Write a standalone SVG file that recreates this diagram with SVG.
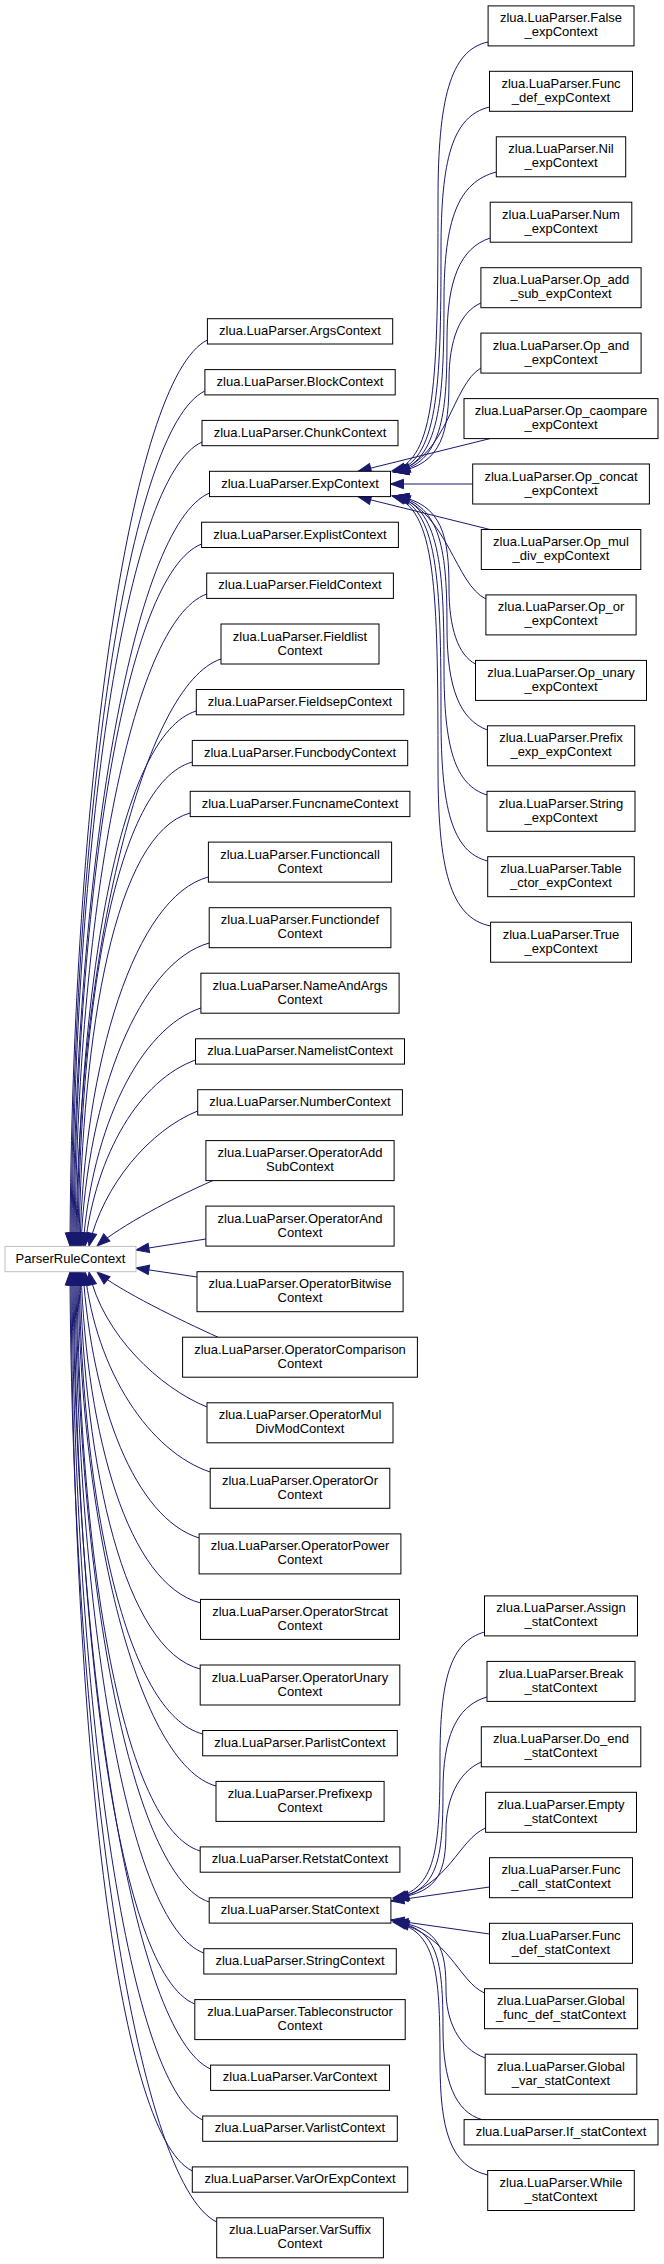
<svg xmlns="http://www.w3.org/2000/svg" width="664" height="2264" viewBox="0 0 664 2264">
<defs>
<style>
.n rect{fill:#fff;stroke:#000;stroke-width:1}
.x rect{fill:#fff;stroke:#bfbfbf;stroke-width:1}
text{font-family:"Liberation Sans",Arial,Helvetica,sans-serif;font-size:13px;text-anchor:middle;fill:#000}
#edges path{fill:none;stroke:#191970;stroke-width:1;marker-end:url(#ah)}
</style>
<marker id="ah" viewBox="0 0 14 10" refX="13" refY="5" markerWidth="14" markerHeight="10" markerUnits="userSpaceOnUse" orient="auto" style="overflow:visible">
<path d="M0,0.3 L13,5 L0,9.7 Z" fill="#191970" stroke="#191970" stroke-width="1"/>
</marker>
</defs>
<rect x="0" y="0" width="664" height="2264" fill="#fff"/>
<g id="edges">
<path d="M207.4,340 C130,378 72,793 70,1246"/>
<path d="M204.9,391 C128,428 73,818 71,1246"/>
<path d="M202,442 C125,477 74,844 72,1246"/>
<path d="M209.5,493 C132,526 75,870 73,1246"/>
<path d="M201.6,544 C125,574 76,895 74,1246"/>
<path d="M206.7,594 C130,622 77,920 75,1246"/>
<path d="M221,659 C144,684 78,953 76,1246"/>
<path d="M196.3,711 C120,734 79,979 77,1246"/>
<path d="M192.3,762 C116,783 80,1004 78,1246"/>
<path d="M190.2,813 C115,833 82,1030 79,1246"/>
<path d="M208.4,877 C135,896 84,1062 80,1246"/>
<path d="M209.2,943 C140,962 87,1095 81,1246"/>
<path d="M200.9,1008 C140,1028 92,1127 83,1246"/>
<path d="M195.5,1060 C140,1080 96,1153 85,1246"/>
<path d="M197.7,1111 C150,1130 103,1185 89,1246"/>
<path d="M213,1180.5 C175,1197 120,1226 97,1246"/>
<path d="M205.9,1239 L136,1250"/>
<path d="M197,1277 L136,1268"/>
<path d="M218,1337.2 C180,1320 120,1291 97,1272"/>
<path d="M207,1407 C160,1388 103,1335 89,1272"/>
<path d="M210.2,1472 C150,1452 96,1372 85,1272"/>
<path d="M199.1,1538 C135,1518 92,1405 83,1272"/>
<path d="M200.5,1603 C128,1584 87,1437 81,1272"/>
<path d="M200.2,1669 C125,1650 84,1470 80,1272"/>
<path d="M202.7,1734 C126,1714 82,1503 79,1272"/>
<path d="M216,1786 C139,1765 80,1529 78,1272"/>
<path d="M200.2,1851 C123,1828 79,1561 77,1272"/>
<path d="M209.2,1902 C132,1877 78,1587 76,1272"/>
<path d="M203.8,1953 C127,1925 77,1612 75,1272"/>
<path d="M194.8,2004 C118,1973 76,1638 74,1272"/>
<path d="M210.6,2069 C134,2035 75,1670 73,1272"/>
<path d="M202.7,2120 C126,2084 74,1696 72,1272"/>
<path d="M192.3,2171 C115,2133 73,1721 71,1272"/>
<path d="M216.7,2222 C135,2182 72,1747 70,1272"/>
<path d="M488,42 C450,50 438,100 438,200 C438,380 436,460 392,471"/>
<path d="M489.5,107 C452,116 441,160 441,250 C441,390 438,462 393,472"/>
<path d="M496.3,172 C458,182 444,220 444,300 C444,400 440,463 394,472"/>
<path d="M490.2,238 C460,248 447,280 447,340 C447,415 442,464 395,472"/>
<path d="M480.9,303 C460,312 449,340 449,380 C449,430 443,465 396,472"/>
<path d="M480.9,368 C452,385 448,455 397,472"/>
<path d="M490,438.6 L358,471.3"/>
<path d="M472.7,484 L390.5,484"/>
<path d="M490,529.5 L358,496.7"/>
<path d="M485.9,599 C455,584 448,513 397,496"/>
<path d="M475.5,664 C458,655 449,628 449,588 C449,538 443,503 396,496"/>
<path d="M487.4,730 C460,720 447,688 447,628 C447,553 442,504 395,496"/>
<path d="M487,795 C455,785 444,748 444,668 C444,568 440,505 394,496"/>
<path d="M487.7,861 C452,852 441,808 441,718 C441,578 438,506 393,496"/>
<path d="M490.6,926 C450,918 438,868 438,768 C438,588 436,508 392,496"/>
<path d="M484.5,1632 C450,1642 440,1680 440,1760 C440,1850 436,1890 393,1898"/>
<path d="M487,1697 C455,1706 443,1740 443,1790 C443,1860 438,1892 394,1898"/>
<path d="M481.3,1762 C458,1772 446,1800 446,1830 C446,1870 440,1893 395,1898"/>
<path d="M485.6,1828 C458,1840 450,1885 396,1899"/>
<path d="M489.5,1887 L391,1901"/>
<path d="M489.5,1934 L391,1920"/>
<path d="M484.5,1993 C458,1981 450,1936 396,1922"/>
<path d="M485.2,2058 C458,2048 446,2020 446,1990 C446,1950 440,1927 395,1922"/>
<path d="M482,2119.6 C455,2112 443,2080 443,2030 C443,1960 438,1928 394,1922"/>
<path d="M487.7,2175 C450,2166 440,2130 440,2060 C440,1970 436,1930 393,1922"/>
</g>
<g id="ParserRuleContext" class="x"><rect x="5" y="1246.4" width="131" height="25.3"/><text x="70.5" y="1262.7">ParserRuleContext</text></g>
<g id="ArgsContext" class="n"><rect x="207.4" y="318.7" width="185.3" height="25.3"/><text x="300" y="335">zlua.LuaParser.ArgsContext</text></g>
<g id="BlockContext" class="n"><rect x="204.9" y="369.6" width="190.3" height="25.3"/><text x="300" y="385.9">zlua.LuaParser.BlockContext</text></g>
<g id="ChunkContext" class="n"><rect x="202" y="420.4" width="196" height="25.3"/><text x="300" y="436.7">zlua.LuaParser.ChunkContext</text></g>
<g id="ExpContext" class="n"><rect x="209.5" y="471.3" width="181" height="25.3"/><text x="300" y="487.6">zlua.LuaParser.ExpContext</text></g>
<g id="ExplistContext" class="n"><rect x="201.6" y="522.2" width="196.8" height="25.3"/><text x="300" y="538.5">zlua.LuaParser.ExplistContext</text></g>
<g id="FieldContext" class="n"><rect x="206.7" y="573.1" width="186.7" height="25.3"/><text x="300" y="589.4">zlua.LuaParser.FieldContext</text></g>
<g id="FieldlistContext" class="n"><rect x="221" y="624" width="158" height="40"/><text x="300" y="640.5">zlua.LuaParser.Fieldlist</text><text x="300" y="654.5">Context</text></g>
<g id="FieldsepContext" class="n"><rect x="196.3" y="689.5" width="207.5" height="25.3"/><text x="300" y="705.8">zlua.LuaParser.FieldsepContext</text></g>
<g id="FuncbodyContext" class="n"><rect x="192.3" y="740.4" width="215.4" height="25.3"/><text x="300" y="756.7">zlua.LuaParser.FuncbodyContext</text></g>
<g id="FuncnameContext" class="n"><rect x="190.2" y="791.3" width="219.7" height="25.3"/><text x="300" y="807.6">zlua.LuaParser.FuncnameContext</text></g>
<g id="FunctioncallContext" class="n"><rect x="208.4" y="842.1" width="183.2" height="40"/><text x="300" y="858.6">zlua.LuaParser.Functioncall</text><text x="300" y="872.6">Context</text></g>
<g id="FunctiondefContext" class="n"><rect x="209.2" y="907.7" width="181.7" height="40"/><text x="300" y="924.2">zlua.LuaParser.Functiondef</text><text x="300" y="938.2">Context</text></g>
<g id="NameAndArgsContext" class="n"><rect x="200.9" y="973.2" width="198.2" height="40"/><text x="300" y="989.7">zlua.LuaParser.NameAndArgs</text><text x="300" y="1003.7">Context</text></g>
<g id="NamelistContext" class="n"><rect x="195.5" y="1038.8" width="209" height="25.3"/><text x="300" y="1055.1">zlua.LuaParser.NamelistContext</text></g>
<g id="NumberContext" class="n"><rect x="197.7" y="1089.7" width="204.7" height="25.3"/><text x="300" y="1106">zlua.LuaParser.NumberContext</text></g>
<g id="OperatorAddSubContext" class="n"><rect x="205.9" y="1140.6" width="188.2" height="40"/><text x="300" y="1157.1">zlua.LuaParser.OperatorAdd</text><text x="300" y="1171.1">SubContext</text></g>
<g id="OperatorAndContext" class="n"><rect x="205.9" y="1206.1" width="188.2" height="40"/><text x="300" y="1222.6">zlua.LuaParser.OperatorAnd</text><text x="300" y="1236.6">Context</text></g>
<g id="OperatorBitwiseContext" class="n"><rect x="197" y="1271.7" width="206.1" height="40"/><text x="300" y="1288.2">zlua.LuaParser.OperatorBitwise</text><text x="300" y="1302.2">Context</text></g>
<g id="OperatorComparisonContext" class="n"><rect x="182.6" y="1337.2" width="234.8" height="40"/><text x="300" y="1353.7">zlua.LuaParser.OperatorComparison</text><text x="300" y="1367.7">Context</text></g>
<g id="OperatorMulDivModContext" class="n"><rect x="207" y="1402.8" width="186" height="40"/><text x="300" y="1419.3">zlua.LuaParser.OperatorMul</text><text x="300" y="1433.3">DivModContext</text></g>
<g id="OperatorOrContext" class="n"><rect x="210.2" y="1468.3" width="179.6" height="40"/><text x="300" y="1484.8">zlua.LuaParser.OperatorOr</text><text x="300" y="1498.8">Context</text></g>
<g id="OperatorPowerContext" class="n"><rect x="199.1" y="1533.9" width="201.8" height="40"/><text x="300" y="1550.4">zlua.LuaParser.OperatorPower</text><text x="300" y="1564.4">Context</text></g>
<g id="OperatorStrcatContext" class="n"><rect x="200.5" y="1599.4" width="199" height="40"/><text x="300" y="1615.9">zlua.LuaParser.OperatorStrcat</text><text x="300" y="1629.9">Context</text></g>
<g id="OperatorUnaryContext" class="n"><rect x="200.2" y="1665" width="199.6" height="40"/><text x="300" y="1681.5">zlua.LuaParser.OperatorUnary</text><text x="300" y="1695.5">Context</text></g>
<g id="ParlistContext" class="n"><rect x="202.7" y="1730.5" width="194.6" height="25.3"/><text x="300" y="1746.8">zlua.LuaParser.ParlistContext</text></g>
<g id="PrefixexpContext" class="n"><rect x="216" y="1781.4" width="168.1" height="40"/><text x="300" y="1797.9">zlua.LuaParser.Prefixexp</text><text x="300" y="1811.9">Context</text></g>
<g id="RetstatContext" class="n"><rect x="200.2" y="1846.9" width="199.7" height="25.3"/><text x="300" y="1863.2">zlua.LuaParser.RetstatContext</text></g>
<g id="StatContext" class="n"><rect x="209.2" y="1897.8" width="181.7" height="25.3"/><text x="300" y="1914.1">zlua.LuaParser.StatContext</text></g>
<g id="StringContext" class="n"><rect x="203.8" y="1948.7" width="192.5" height="25.3"/><text x="300" y="1965">zlua.LuaParser.StringContext</text></g>
<g id="TableconstructorContext" class="n"><rect x="194.8" y="1999.6" width="210.4" height="40"/><text x="300" y="2016.1">zlua.LuaParser.Tableconstructor</text><text x="300" y="2030.1">Context</text></g>
<g id="VarContext" class="n"><rect x="210.6" y="2065.1" width="178.9" height="25.3"/><text x="300" y="2081.4">zlua.LuaParser.VarContext</text></g>
<g id="VarlistContext" class="n"><rect x="202.7" y="2116" width="194.6" height="25.3"/><text x="300" y="2132.3">zlua.LuaParser.VarlistContext</text></g>
<g id="VarOrExpContext" class="n"><rect x="192.3" y="2166.9" width="215.4" height="25.3"/><text x="300" y="2183.2">zlua.LuaParser.VarOrExpContext</text></g>
<g id="VarSuffixContext" class="n"><rect x="216.7" y="2217.8" width="166.7" height="40"/><text x="300" y="2234.3">zlua.LuaParser.VarSuffix</text><text x="300" y="2248.3">Context</text></g>
<g id="False_expContext" class="n"><rect x="488.1" y="5.9" width="145.9" height="40"/><text x="561" y="22.4">zlua.LuaParser.False</text><text x="561" y="36.4">_expContext</text></g>
<g id="Func_def_expContext" class="n"><rect x="489.5" y="71.3" width="143" height="40"/><text x="561" y="87.8">zlua.LuaParser.Func</text><text x="561" y="101.8">_def_expContext</text></g>
<g id="Nil_expContext" class="n"><rect x="496.3" y="136.8" width="129.4" height="40"/><text x="561" y="153.3">zlua.LuaParser.Nil</text><text x="561" y="167.3">_expContext</text></g>
<g id="Num_expContext" class="n"><rect x="490.2" y="202.2" width="141.6" height="40"/><text x="561" y="218.7">zlua.LuaParser.Num</text><text x="561" y="232.7">_expContext</text></g>
<g id="Op_add_sub_expContext" class="n"><rect x="480.9" y="267.7" width="160.2" height="40"/><text x="561" y="284.2">zlua.LuaParser.Op_add</text><text x="561" y="298.2">_sub_expContext</text></g>
<g id="Op_and_expContext" class="n"><rect x="480.9" y="333.1" width="160.2" height="40"/><text x="561" y="349.6">zlua.LuaParser.Op_and</text><text x="561" y="363.6">_expContext</text></g>
<g id="Op_caompare_expContext" class="n"><rect x="464" y="398.6" width="194" height="40"/><text x="561" y="415.1">zlua.LuaParser.Op_caompare</text><text x="561" y="429.1">_expContext</text></g>
<g id="Op_concat_expContext" class="n"><rect x="472.7" y="464" width="176.7" height="40"/><text x="561" y="480.5">zlua.LuaParser.Op_concat</text><text x="561" y="494.5">_expContext</text></g>
<g id="Op_mul_div_expContext" class="n"><rect x="481.3" y="529.5" width="159.5" height="40"/><text x="561" y="546">zlua.LuaParser.Op_mul</text><text x="561" y="560">_div_expContext</text></g>
<g id="Op_or_expContext" class="n"><rect x="485.9" y="594.9" width="150.2" height="40"/><text x="561" y="611.4">zlua.LuaParser.Op_or</text><text x="561" y="625.4">_expContext</text></g>
<g id="Op_unary_expContext" class="n"><rect x="475.5" y="660.4" width="171" height="40"/><text x="561" y="676.9">zlua.LuaParser.Op_unary</text><text x="561" y="690.9">_expContext</text></g>
<g id="Prefix_exp_expContext" class="n"><rect x="487.4" y="725.8" width="147.3" height="40"/><text x="561" y="742.3">zlua.LuaParser.Prefix</text><text x="561" y="756.3">_exp_expContext</text></g>
<g id="String_expContext" class="n"><rect x="487" y="791.3" width="148" height="40"/><text x="561" y="807.8">zlua.LuaParser.String</text><text x="561" y="821.8">_expContext</text></g>
<g id="Table_ctor_expContext" class="n"><rect x="487.7" y="856.7" width="146.6" height="40"/><text x="561" y="873.2">zlua.LuaParser.Table</text><text x="561" y="887.2">_ctor_expContext</text></g>
<g id="True_expContext" class="n"><rect x="490.6" y="922.2" width="140.9" height="40"/><text x="561" y="938.7">zlua.LuaParser.True</text><text x="561" y="952.7">_expContext</text></g>
<g id="Assign_statContext" class="n"><rect x="484.5" y="1595.9" width="153" height="40"/><text x="561" y="1612.4">zlua.LuaParser.Assign</text><text x="561" y="1626.4">_statContext</text></g>
<g id="Break_statContext" class="n"><rect x="487" y="1661.4" width="148" height="40"/><text x="561" y="1677.9">zlua.LuaParser.Break</text><text x="561" y="1691.9">_statContext</text></g>
<g id="Do_end_statContext" class="n"><rect x="481.3" y="1726.8" width="159.5" height="40"/><text x="561" y="1743.3">zlua.LuaParser.Do_end</text><text x="561" y="1757.3">_statContext</text></g>
<g id="Empty_statContext" class="n"><rect x="485.6" y="1792.3" width="150.9" height="40"/><text x="561" y="1808.8">zlua.LuaParser.Empty</text><text x="561" y="1822.8">_statContext</text></g>
<g id="Func_call_statContext" class="n"><rect x="489.5" y="1857.7" width="143" height="40"/><text x="561" y="1874.2">zlua.LuaParser.Func</text><text x="561" y="1888.2">_call_statContext</text></g>
<g id="Func_def_statContext" class="n"><rect x="489.5" y="1923.3" width="143" height="40"/><text x="561" y="1939.8">zlua.LuaParser.Func</text><text x="561" y="1953.8">_def_statContext</text></g>
<g id="Global_func_def_statContext" class="n"><rect x="484.5" y="1988.7" width="153.1" height="40"/><text x="561" y="2005.2">zlua.LuaParser.Global</text><text x="561" y="2019.2">_func_def_statContext</text></g>
<g id="Global_var_statContext" class="n"><rect x="485.2" y="2054.2" width="151.6" height="40"/><text x="561" y="2070.7">zlua.LuaParser.Global</text><text x="561" y="2084.7">_var_statContext</text></g>
<g id="If_statContext" class="n"><rect x="464.1" y="2119.6" width="193.9" height="25.3"/><text x="561" y="2135.9">zlua.LuaParser.If_statContext</text></g>
<g id="While_statContext" class="n"><rect x="487.7" y="2170.5" width="146.6" height="40"/><text x="561" y="2187">zlua.LuaParser.While</text><text x="561" y="2201">_statContext</text></g>
</svg>
